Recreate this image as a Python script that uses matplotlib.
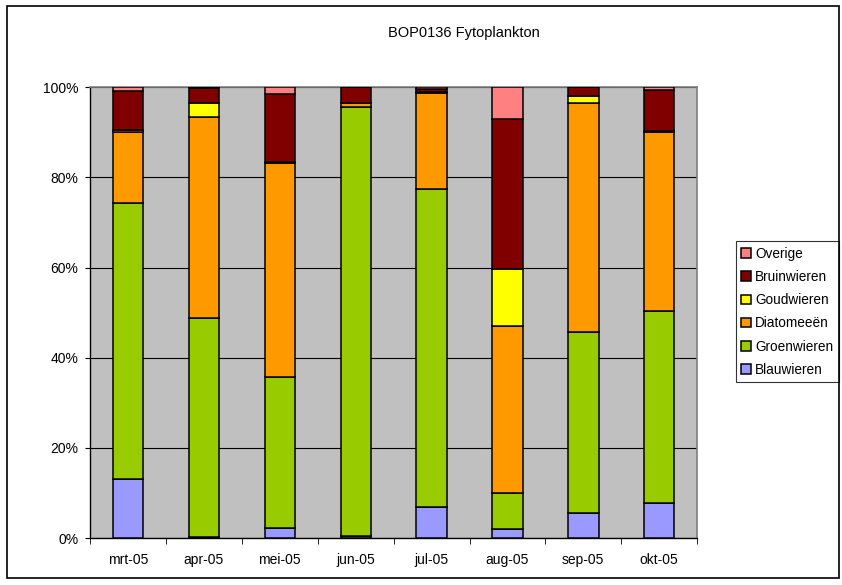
import numpy as np
import matplotlib
import matplotlib.pyplot as plt
from matplotlib.patches import Rectangle
from matplotlib.ticker import FuncFormatter

matplotlib.use('Agg')
plt.rcParams['font.family'] = ['Liberation Sans', 'DejaVu Sans']

months = ['mrt-05', 'apr-05', 'mei-05', 'jun-05', 'jul-05', 'aug-05', 'sep-05', 'okt-05']
blauwieren = [13.2, 0.3, 2.3, 0.5, 6.9, 2.1, 5.5, 7.8]
groenwieren = [61.1, 48.6, 33.4, 95.0, 70.5, 7.9, 40.3, 42.5]
diatomeeen = [15.7, 44.5, 47.5, 0.9, 21.4, 37.0, 50.7, 39.8]
goudwieren = [0.5, 3.1, 0.1, 0.0, 0.1, 12.6, 1.5, 0.1]
bruinwieren = [8.7, 3.3, 15.2, 3.6, 0.7, 33.4, 2.0, 9.2]
overige = [0.8, 0.2, 1.5, 0.0, 0.4, 7.0, 0.0, 0.6]

series = [
    ("Blauwieren", blauwieren, "#9999FF"),
    ("Groenwieren", groenwieren, "#99CC00"),
    ("Diatomeeën", diatomeeen, "#FF9900"),
    ("Goudwieren", goudwieren, "#FFFF00"),
    ("Bruinwieren", bruinwieren, "#800000"),
    ("Overige", overige, "#FF8080"),
]

fig = plt.figure(figsize=(8.42, 5.85), dpi=100)
fig.patches.append(Rectangle((0.008, 0.012), 0.988, 0.978, transform=fig.transFigure,
                             fill=False, edgecolor="black", linewidth=1.2))

ax = fig.add_axes([0.107, 0.080, 0.721, 0.771])
ax.set_facecolor("#C0C0C0")

x = np.arange(len(months))
totals = np.sum([s[1] for s in series], axis=0)
bottom = np.zeros(len(months))
handles = []
for name, vals, color in series:
    frac = np.array(vals) / totals * 100
    b = ax.bar(x, frac, 0.4, bottom=bottom, color=color, edgecolor="black", linewidth=1.1,
               label=name, zorder=3)
    handles.append(b)
    bottom += frac

ax.set_xlim(-0.5, len(months) - 0.5)
ax.set_ylim(0, 100)
ax.set_yticks(np.arange(0, 101, 20))
ax.yaxis.set_major_formatter(FuncFormatter(lambda v, p: f"{int(v)}%"))
ax.set_xticks(x, months)
ax.set_xticks(np.arange(-0.5, len(months)), minor=True)
ax.tick_params(axis="x", which="major", length=0, labelsize=10, pad=11)
ax.tick_params(axis="x", which="minor", length=4, direction="out")
ax.tick_params(axis="y", labelsize=10, length=3.5, direction="out", pad=5)
ax.grid(True, axis="y", color="black", linewidth=0.8, zorder=1)
ax.set_axisbelow(True)
for side in ("top", "right"):
    ax.spines[side].set_color("#808080")
    ax.spines[side].set_linewidth(1.2)
for side in ("left", "bottom"):
    ax.spines[side].set_color("black")
    ax.spines[side].set_linewidth(1.0)

fig.text(0.5505, 0.9436, "BOP0136 Fytoplankton", ha="center", va="center", fontsize=10.5)

leg = ax.legend(handles[::-1], [s[0] for s in series[::-1]], loc="center left",
                bbox_to_anchor=(1.064, 0.502), fontsize=9.8, frameon=True, fancybox=False,
                edgecolor="black", handlelength=0.7, handleheight=0.7, handletextpad=0.3,
                labelspacing=0.68, borderpad=0.4, borderaxespad=0)
leg.get_frame().set_linewidth(0.8)

fig.savefig("out.png", dpi=100, facecolor="white")
